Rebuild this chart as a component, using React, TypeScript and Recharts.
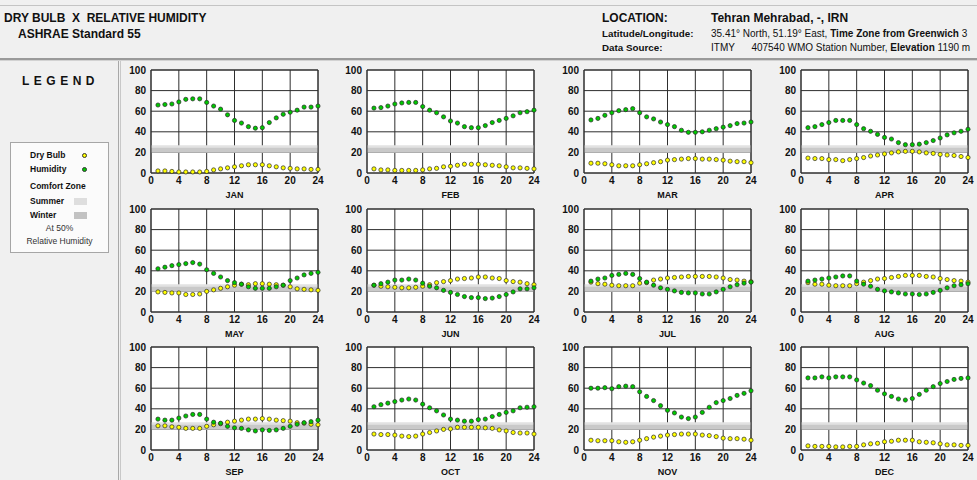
import { CartesianGrid, Label, ReferenceArea, Scatter, ScatterChart, XAxis, YAxis } from "recharts";

const HOURS = [1, 2, 3, 4, 5, 6, 7, 8, 9, 10, 11, 12, 13, 14, 15, 16, 17, 18, 19, 20, 21, 22, 23, 24];
const X_TICKS = [0, 4, 8, 12, 16, 20, 24];
const Y_TICKS = [0, 20, 40, 60, 80, 100];

const janHumidity = [66, 66.5, 67, 69, 71.5, 72, 72, 68.5, 65, 62, 56.5, 51, 48.5, 45, 43.5, 44, 49, 53.5, 57, 59, 61, 64, 64, 65];
const janDryBulb = [2, 2, 1.5, 1, 1, 1, 1, 1.5, 3, 4, 5, 6, 7, 8, 8, 8, 7, 6, 5, 4.5, 4, 4, 3.5, 3.5];
const febHumidity = [63, 63.5, 65, 67, 68, 68.5, 68.5, 64.5, 61, 58.5, 54.5, 50.5, 48.5, 45, 44, 44, 46, 49, 51, 53, 55.5, 58.5, 59.5, 61];
const febDryBulb = [4, 3, 3, 2.5, 2.5, 2.5, 2.5, 3, 4, 4.5, 6, 6.5, 7.5, 8.5, 8.5, 8.5, 8, 7.5, 7, 6, 5, 5, 4.5, 4];
const marHumidity = [51.5, 53, 56, 58.5, 60.5, 61.5, 62.5, 58.5, 54.5, 52.5, 49.5, 47, 45, 41.5, 39.5, 39.5, 40, 41.5, 43, 44.5, 46, 48, 48.5, 49.5];
const marDryBulb = [9.5, 9.5, 9, 8, 7, 7, 7, 8, 9, 10, 11, 12.5, 13, 13.5, 14, 14, 13.5, 13.5, 13, 12.5, 11.5, 11, 11, 10];
const aprHumidity = [44, 45, 47, 49, 51, 51, 51, 47, 43, 40.5, 37.5, 34.5, 33, 29.5, 27.5, 27.5, 28, 29.5, 31.5, 34, 37, 39, 40.5, 42.5];
const aprDryBulb = [14.5, 14, 14, 13, 13, 12, 13, 14, 15, 16.5, 17.5, 18.5, 19.5, 20.5, 21, 21, 20.5, 19.5, 19, 18, 17.5, 17, 16, 15];
const mayHumidity = [42, 43.5, 45, 46, 47, 48, 46.5, 41, 37.5, 34, 30.5, 28.5, 27, 24.5, 23, 23, 23, 24.5, 26, 30.5, 33, 36, 37.5, 38.5];
const mayDryBulb = [19.5, 19, 18.5, 18.5, 17, 17, 17.5, 20, 21.5, 23, 24.5, 26, 27, 26.5, 27.5, 27.5, 27, 26.5, 26, 24.5, 22.5, 22, 21.5, 21];
const junHumidity = [26, 27.5, 29, 31, 31, 32, 31, 28, 25, 23.5, 21, 19, 17, 15, 14, 14, 13, 13.5, 15, 17, 19.5, 22.5, 22.5, 23.5];
const junDryBulb = [26, 25, 24.5, 24, 23.5, 23.5, 24, 25, 26.5, 28.5, 29.5, 30.5, 32, 32.5, 33, 34, 34, 33, 32.5, 30.5, 29.5, 29, 27.5, 26.5];
const julHumidity = [30, 32, 33, 35.5, 36.5, 37.5, 36.5, 32.5, 29, 26, 23.5, 22, 20.5, 19, 18.5, 18.5, 17.5, 17.5, 19.5, 22, 24.5, 26.5, 28, 29];
const julDryBulb = [29, 27.5, 27, 26, 25.5, 25.5, 25.5, 28, 28.5, 31, 32, 33, 33.5, 34, 34.5, 34.5, 34.5, 34.5, 34, 33, 31.5, 31, 30, 29.5];
const augHumidity = [30, 31, 32, 33, 34, 35, 35, 30, 27, 25, 22, 20.5, 19.5, 18.5, 17.5, 17.5, 17, 17.5, 19, 21, 23.5, 25.5, 26.5, 27.5];
const augDryBulb = [28.5, 27, 27, 26, 25.5, 25.5, 25.5, 27.5, 29, 30.5, 32, 32.5, 33.5, 34.5, 35.5, 35.5, 35.5, 34.5, 34, 32.5, 31.5, 30.5, 30, 29];
const sepHumidity = [30, 29, 29, 31, 33, 34.5, 34.5, 30, 27, 26, 23, 21.5, 21, 19.5, 18.5, 19.5, 19, 19.5, 21, 23, 25, 26.5, 27.5, 29];
const sepDryBulb = [23.5, 23.5, 22.5, 22, 21, 21, 21, 23, 24.5, 25.5, 27, 28, 29, 30, 30, 30.5, 30, 29, 28.5, 28, 26.5, 26, 25, 24.5];
const octHumidity = [42, 44, 45.5, 47, 48.5, 49.5, 48.5, 44.5, 41, 38, 34, 30, 29, 28, 28, 29.5, 30, 32.5, 34.5, 36.5, 38, 41, 41.5, 42];
const octDryBulb = [15.5, 15, 15, 14.5, 13.5, 13, 13.5, 15.5, 17, 18.5, 20, 20.5, 22, 22, 22, 22, 21.5, 21, 19.5, 18.5, 17, 16.5, 16.5, 15.5];
const novHumidity = [60, 60, 60.5, 59.5, 61.5, 62, 61.5, 56.5, 52, 48, 43, 38.5, 36, 32, 30.5, 32, 36.5, 41.5, 46, 48, 50, 53, 55, 57.5];
const novDryBulb = [9.5, 9, 9, 9, 8, 7.5, 8, 9.5, 11, 12.5, 13.5, 14.5, 15, 15.5, 15.5, 15.5, 14.5, 14, 13, 11.5, 11, 11, 10.5, 9.5];
const decHumidity = [70, 70, 71, 70, 71, 71, 71, 68, 65, 62.5, 58, 54.5, 52, 49.5, 48.5, 50, 54, 58, 61.5, 64.5, 66.5, 68.5, 69.5, 70];
const decDryBulb = [4, 3.5, 3.5, 3.5, 3, 3, 3.5, 3.5, 5, 6, 6.5, 8, 8.5, 9.5, 9.5, 9.5, 8, 7.5, 7, 6, 5, 5, 4.5, 4.5];

const MONTHS = ["JAN", "FEB", "MAR", "APR", "MAY", "JUN", "JUL", "AUG", "SEP", "OCT", "NOV", "DEC"];
const HUMIDITY = [janHumidity, febHumidity, marHumidity, aprHumidity, mayHumidity, junHumidity, julHumidity, augHumidity, sepHumidity, octHumidity, novHumidity, decHumidity];
const DRY_BULB = [janDryBulb, febDryBulb, marDryBulb, aprDryBulb, mayDryBulb, junDryBulb, julDryBulb, augDryBulb, sepDryBulb, octDryBulb, novDryBulb, decDryBulb];

const FONT = "'Liberation Sans', Arial, Helvetica, sans-serif";
const COL_LEFT = [151, 367, 584, 801];
const ROW_TOP = [70, 209, 347];
const PLOT_W = 167;
const PLOT_H = 103;
const Y_AXIS_W = 36;
const TOP_PAD = 6;

const YELLOW = "#ffff00";
const GREEN = "#00c800";

const dot = (color: string) => (p: any) => (
  <circle cx={p.cx} cy={p.cy} r={2.1} fill={color} stroke="#2a2a2a" strokeWidth={0.7} />
);

const tickStyle = { fontSize: 10, fontWeight: 700, fill: "#111", fontFamily: FONT };

function MonthPanel({ idx }: { idx: number }) {
  const dry = HOURS.map((h, i) => ({ hour: h, value: DRY_BULB[idx][i] }));
  const hum = HOURS.map((h, i) => ({ hour: h, value: HUMIDITY[idx][i] }));
  const left = COL_LEFT[idx % 4] - Y_AXIS_W;
  const top = ROW_TOP[Math.floor(idx / 4)] - TOP_PAD;
  return (
    <div style={{ position: "absolute", left, top }}>
      <ScatterChart
        width={Y_AXIS_W + PLOT_W + 8}
        height={TOP_PAD + PLOT_H + 30}
        margin={{ top: TOP_PAD, right: 8, left: 0, bottom: 0 }}
      >
        <CartesianGrid fill="#ffffff" horizontal={false} vertical={false} />
        <ReferenceArea x1={0} x2={24} y1={20} y2={27} fill="#e2e2e2" fillOpacity={1} stroke="none" />
        <ReferenceArea x1={0} x2={24} y1={20} y2={24.5} fill="#c9c9c9" fillOpacity={1} stroke="none" />
        <CartesianGrid stroke="#2e2e2e" fill="none" />
        <ReferenceArea x1={0} x2={24} y1={0} y2={100} fill="none" stroke="#2e2e2e" />
        <XAxis
          type="number"
          dataKey="hour"
          domain={[0, 24]}
          ticks={X_TICKS}
          interval={0}
          tickLine={false}
          axisLine={false}
          tickSize={2}
          tickMargin={2}
          height={30}
          tick={tickStyle}
        >
          <Label
            value={MONTHS[idx]}
            position="insideBottom"
            offset={5}
            style={{ fontSize: 9, fontWeight: 700, fill: "#111", fontFamily: FONT }}
          />
        </XAxis>
        <YAxis
          type="number"
          dataKey="value"
          domain={[0, 100]}
          ticks={Y_TICKS}
          interval={0}
          width={Y_AXIS_W}
          tickLine={false}
          axisLine={false}
          tickSize={3}
          tickMargin={2}
          tick={tickStyle}
        />
        <Scatter data={dry} shape={dot(YELLOW)} isAnimationActive={false} />
        <Scatter data={hum} shape={dot(GREEN)} isAnimationActive={false} />
      </ScatterChart>
    </div>
  );
}

const abs = (left: number, top: number, extra: any = {}) => ({
  position: "absolute" as const,
  left,
  top,
  whiteSpace: "pre" as const,
  lineHeight: 1,
  ...extra,
});

export default function App() {
  return (
    <div
      style={{
        position: "absolute",
        left: 0,
        top: 0,
        width: 977,
        height: 480,
        overflow: "hidden",
        background: "#f0f0f0",
        fontFamily: FONT,
        color: "#111",
      }}
    >
      {/* header frame */}
      <div style={{ position: "absolute", left: 0, top: 5, width: 977, height: 1, background: "#c4c4c4" }} />
      <div style={{ position: "absolute", left: 0, top: 58, width: 977, height: 2, background: "#9a9a9a" }} />
      <div style={{ position: "absolute", left: 0, top: 60, width: 977, height: 1, background: "#d2d2d2" }} />
      <div style={{ position: "absolute", left: 118, top: 61, width: 1, height: 419, background: "#a8a8a8" }} />
      <div style={{ position: "absolute", left: 120, top: 61, width: 1, height: 419, background: "#c8c8c8" }} />

      <div style={abs(4, 12, { fontSize: 12, fontWeight: 700 })}>{"DRY BULB  X  RELATIVE HUMIDITY"}</div>
      <div style={abs(18, 28, { fontSize: 12, fontWeight: 700 })}>ASHRAE Standard 55</div>
      <div style={abs(602, 12, { fontSize: 12, fontWeight: 700 })}>LOCATION:</div>
      <div style={abs(711, 12, { fontSize: 12, fontWeight: 700 })}>Tehran Mehrabad, -, IRN</div>
      <div style={abs(602, 29, { fontSize: 9.8, fontWeight: 700 })}>Latitude/Longitude:</div>
      <div style={abs(711, 29, { fontSize: 10 })}>
        35.41° North, 51.19° East, <b>Time Zone from Greenwich</b> 3
      </div>
      <div style={abs(602, 43, { fontSize: 9.8, fontWeight: 700 })}>Data Source:</div>
      <div style={abs(711, 43, { fontSize: 10 })}>
        {"ITMY      407540 WMO Station Number, "}
        <b>Elevation</b> 1190 m
      </div>

      {/* legend */}
      <div style={abs(22, 75, { fontSize: 12, fontWeight: 900, letterSpacing: 4.5 })}>LEGEND</div>
      <div
        style={{
          position: "absolute",
          left: 10,
          top: 142,
          width: 97,
          height: 109,
          border: "1px solid #a6a6a6",
          background: "#fbfbfb",
        }}
      />
      <div style={abs(30, 151, { fontSize: 8.5, fontWeight: 700 })}>Dry Bulb</div>
      <div style={{ position: "absolute", left: 82, top: 153, width: 3, height: 3, borderRadius: 3, background: YELLOW, border: "0.5px solid #333" }} />
      <div style={abs(30, 165, { fontSize: 8.5, fontWeight: 700 })}>Humidity</div>
      <div style={{ position: "absolute", left: 82, top: 167, width: 3, height: 3, borderRadius: 3, background: GREEN, border: "0.5px solid #333" }} />
      <div style={abs(30, 182, { fontSize: 8.5, fontWeight: 700 })}>Comfort Zone</div>
      <div style={abs(30, 197, { fontSize: 8.5, fontWeight: 700 })}>Summer</div>
      <div style={{ position: "absolute", left: 74, top: 198, width: 13, height: 7, background: "#dedede" }} />
      <div style={abs(30, 211, { fontSize: 8.5, fontWeight: 700 })}>Winter</div>
      <div style={{ position: "absolute", left: 74, top: 212, width: 13, height: 7, background: "#c2c2c2" }} />
      <div style={abs(10, 224, { width: 99, textAlign: "center", fontSize: 8.5, color: "#333" })}>At 50%</div>
      <div style={abs(10, 237, { width: 99, textAlign: "center", fontSize: 8.5, color: "#333" })}>Relative Humidity</div>

      {MONTHS.map((m, i) => (
        <MonthPanel key={m} idx={i} />
      ))}
    </div>
  );
}
